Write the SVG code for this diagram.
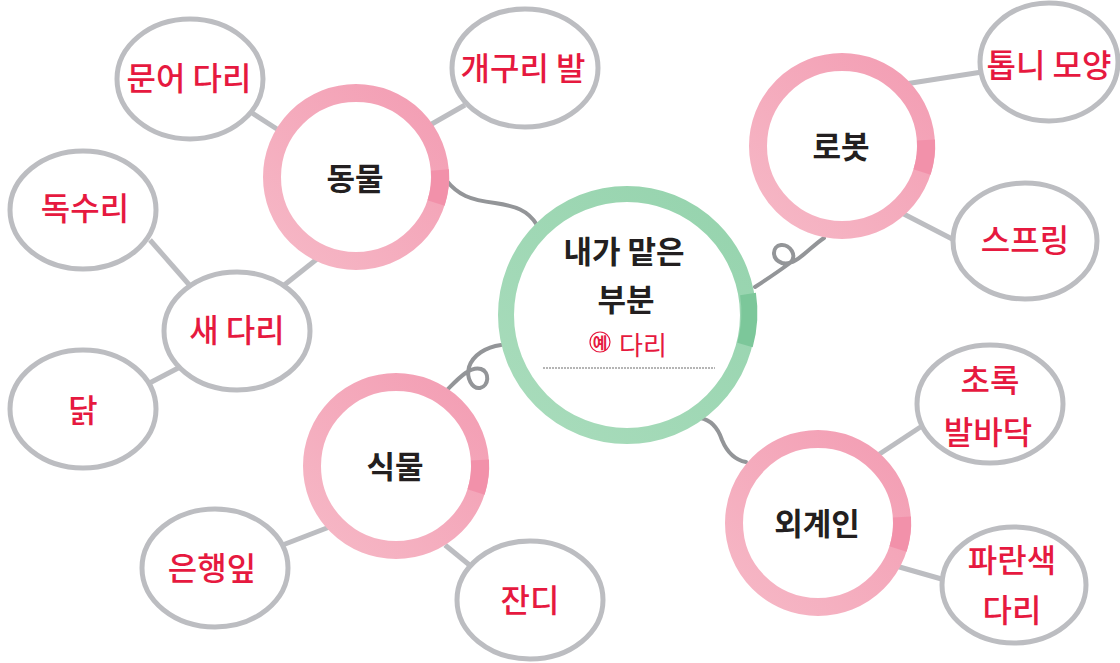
<svg xmlns="http://www.w3.org/2000/svg" width="1120" height="663" viewBox="0 0 1120 663">
<defs>
<linearGradient id="pinkG" x1="1" y1="0" x2="0" y2="1">
<stop offset="0" stop-color="#f39db3"/>
<stop offset="1" stop-color="#f6b8c6"/>
</linearGradient>
<linearGradient id="greenG" x1="1" y1="0" x2="0" y2="1">
<stop offset="0" stop-color="#95d3ad"/>
<stop offset="1" stop-color="#a9dcbc"/>
</linearGradient>
</defs>
<style>
.line{stroke:#bcbdc1;stroke-width:5;fill:none}
.wave{stroke:#939598;stroke-width:4;fill:none;stroke-linecap:round}
.ell{fill:#fff;stroke:#bcbdc1;stroke-width:5}
.ring{fill:#fff;stroke:url(#pinkG);stroke-width:18}
.patch{fill:none;stroke:#f291aa;stroke-width:18}
.lbl{font-family:"Noto Sans CJK KR","Noto Sans",sans-serif;font-weight:700;font-size:31px;fill:#231f20;text-anchor:middle}
.red{font-family:"Noto Sans CJK KR","Noto Sans",sans-serif;font-weight:500;font-size:32px;fill:#e6193f;text-anchor:middle}
</style>
<rect width="1120" height="663" fill="#fff"/>
<g id="connectors">
<line class="line" x1="252" y1="113" x2="280" y2="131"/>
<line class="line" x1="465" y1="105" x2="430" y2="125"/>
<line class="line" x1="150" y1="240" x2="192" y2="288"/>
<line class="line" x1="283" y1="286" x2="322" y2="255"/>
<line class="line" x1="140" y1="388" x2="182" y2="366"/>
<line class="line" x1="280" y1="546" x2="332" y2="526"/>
<line class="line" x1="445" y1="545" x2="478" y2="572"/>
<line class="line" x1="905" y1="84" x2="982" y2="72"/>
<line class="line" x1="896" y1="210" x2="958" y2="242"/>
<line class="line" x1="878" y1="455" x2="922" y2="426"/>
<line class="line" x1="896" y1="566" x2="945" y2="580"/>
<path class="wave" d="M446,180 C458,195 470,200 495,203 C515,206 528,210 537,225"/>
<path class="wave" d="M755,287 Q775,274 790,263 C798,256 790,244 781,245 C772,246 771,259 782,263 C795,267 810,247 824,238"/>
<path class="wave" d="M501,345 C486,347 473,355 469,367 C466,378 472,389 480,388 C489,386 490,372 481,369 C470,366 459,378 448,389"/>
<path class="wave" d="M700,418 C712,420 718,428 722,440 C727,452 735,460 746,462"/>
</g>
<g id="center">
<circle cx="627" cy="315" r="121" fill="#fff" stroke="url(#greenG)" stroke-width="16"/>
<path d="M748,294 A121,121 0 0 1 745,345" fill="none" stroke="#7cc79a" stroke-width="16"/>
<text class="lbl" x="624" y="263">내가 맡은</text>
<text class="lbl" x="626" y="311">부분</text>
<circle cx="600" cy="342" r="10" fill="none" stroke="#e6193f" stroke-width="1.2"/>
<text x="600" y="349" font-family="Noto Sans CJK KR, sans-serif" font-size="16" font-weight="700" fill="#e6193f" text-anchor="middle">예</text>
<text x="643" y="355" font-family="Noto Sans CJK KR, sans-serif" font-size="26" fill="#e6193f" text-anchor="middle">다리</text>
<line x1="543" y1="368" x2="715" y2="368" stroke="#b5b5b5" stroke-width="2" stroke-dasharray="2 1"/>
</g>
<g id="animal">
<circle class="ring" cx="356" cy="177" r="84"/>
<path class="patch" d="M440,170 A84,84 0 0 1 436,203"/>
<text class="lbl" x="355" y="190">동물</text>
</g>
<g id="robot">
<circle class="ring" cx="842" cy="146" r="84"/>
<path class="patch" d="M926,140 A84,84 0 0 1 922,172"/>
<text class="lbl" x="841" y="158">로봇</text>
</g>
<g id="plant">
<circle class="ring" cx="396" cy="466" r="84"/>
<path class="patch" d="M480,460 A84,84 0 0 1 476,492"/>
<text class="lbl" x="395" y="478">식물</text>
</g>
<g id="alien">
<circle class="ring" cx="818" cy="523" r="84"/>
<path class="patch" d="M902,517 A84,84 0 0 1 898,549"/>
<text class="lbl" x="817" y="535">외계인</text>
</g>
<g id="octopus"><ellipse class="ell" cx="190" cy="79" rx="73" ry="60"/><text class="red" x="189" y="90">문어 다리</text></g>
<g id="frog"><ellipse class="ell" cx="525" cy="68" rx="73" ry="59"/><text class="red" x="523" y="80">개구리 발</text></g>
<g id="eagle"><ellipse class="ell" cx="83" cy="210" rx="73" ry="59"/><text class="red" x="85" y="220">독수리</text></g>
<g id="bird"><ellipse class="ell" cx="237" cy="331" rx="73" ry="59"/><text class="red" x="237" y="342">새 다리</text></g>
<g id="chicken"><ellipse class="ell" cx="83" cy="409" rx="73" ry="59"/><text class="red" x="83" y="422">닭</text></g>
<g id="ginkgo"><ellipse class="ell" cx="215" cy="568" rx="73" ry="59"/><text class="red" x="212" y="580">은행잎</text></g>
<g id="grass"><ellipse class="ell" cx="530" cy="600" rx="73" ry="59"/><text class="red" x="530" y="612">잔디</text></g>
<g id="gear"><ellipse class="ell" cx="1049" cy="62" rx="69" ry="59"/><text class="red" x="1049" y="77">톱니 모양</text></g>
<g id="spring"><ellipse class="ell" cx="1025" cy="241" rx="72" ry="58"/><text class="red" x="1025" y="252">스프링</text></g>
<g id="greenfoot"><ellipse class="ell" cx="990" cy="404" rx="73" ry="59"/><text class="red" x="990" y="392">초록</text><text class="red" x="988" y="444">발바닥</text></g>
<g id="blueleg"><ellipse class="ell" cx="1014" cy="585" rx="72" ry="58"/><text class="red" x="1012" y="572">파란색</text><text class="red" x="1012" y="622">다리</text></g>
</svg>
